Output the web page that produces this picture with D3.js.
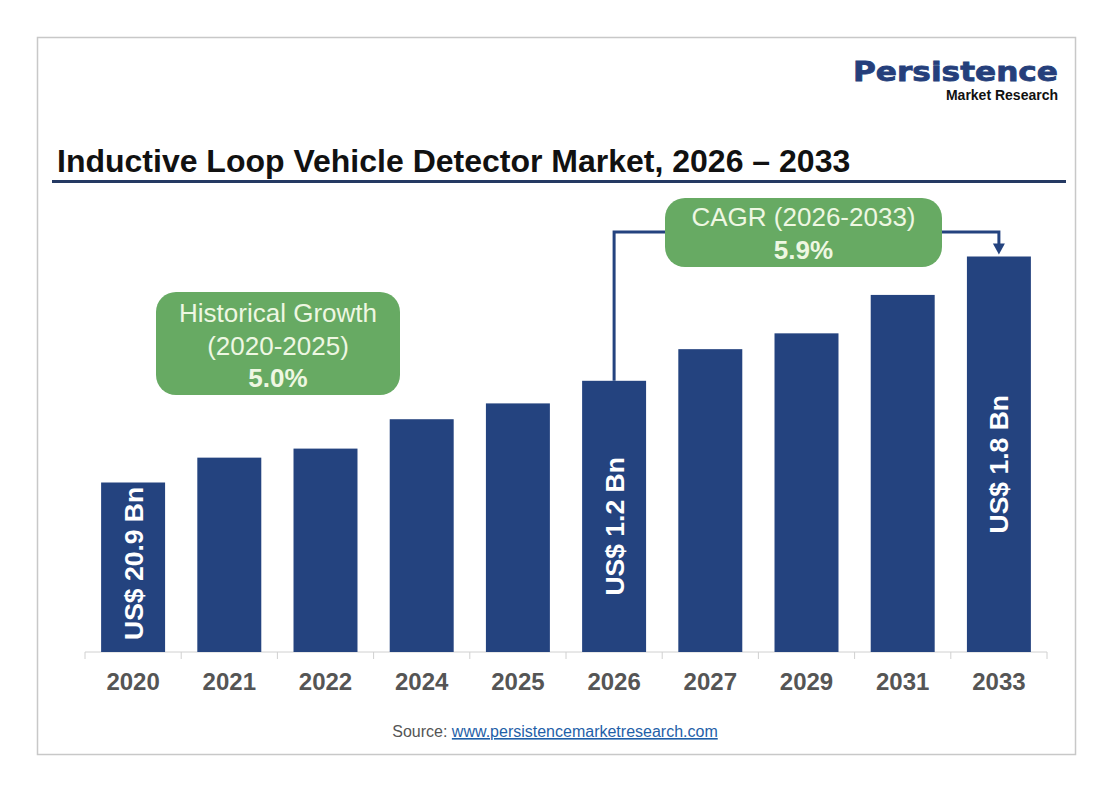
<!DOCTYPE html>
<html>
<head>
<meta charset="utf-8">
<script src="https://cdn.jsdelivr.net/npm/d3@7"></script>
<style>
  body { margin: 0; background: #fff; font-family: "Liberation Sans", Arial, sans-serif; }
</style>
</head>
<body>
<div id="chart"></div>
<script>
const years = ["2020", "2021", "2022", "2024", "2025", "2026", "2027", "2029", "2031", "2033"];
const values = [0.75, 0.86, 0.90, 1.03, 1.10, 1.20, 1.34, 1.41, 1.58, 1.75];
const barLabels = { "2020": "US$ 20.9 Bn", "2026": "US$ 1.2 Bn", "2033": "US$ 1.8 Bn" };
const historical = ["Historical Growth", "(2020-2025)", "5.0%"];
const cagr = ["CAGR (2026-2033)", "5.9%"];

const width = 1112, height = 792;
const barColor = "#24437f";
const green = "#67aa63";

const svg = d3.select("#chart").append("svg")
  .attr("width", width)
  .attr("height", height);

// frame
svg.append("rect")
  .attr("x", 37.5).attr("y", 37.5)
  .attr("width", 1038).attr("height", 717)
  .attr("fill", "#fff")
  .attr("stroke", "#c8c8c8")
  .attr("stroke-width", 1.5);

// logo
svg.append("text")
  .attr("x", 853).attr("y", 81)
  .attr("textLength", 205)
  .attr("lengthAdjust", "spacingAndGlyphs")
  .style("font-family", "'DejaVu Sans', sans-serif")
  .style("font-size", "27px")
  .style("font-weight", "bold")
  .style("fill", "#253f7b")
  .style("stroke", "#253f7b")
  .style("stroke-width", 0.8)
  .text("Persistence");
svg.append("text")
  .attr("x", 1058).attr("y", 100)
  .attr("text-anchor", "end")
  .style("font-size", "14px")
  .style("font-weight", "bold")
  .style("fill", "#111")
  .text("Market Research");

// title
svg.append("text")
  .attr("x", 57).attr("y", 172)
  .style("font-size", "32px")
  .style("font-weight", "bold")
  .style("fill", "#111")
  .text("Inductive Loop Vehicle Detector Market, 2026 \u2013 2033");
svg.append("line")
  .attr("x1", 52).attr("x2", 1066)
  .attr("y1", 181.5).attr("y2", 181.5)
  .attr("stroke", "#253a63")
  .attr("stroke-width", 3);

// scales
const x = d3.scaleBand()
  .domain(years)
  .range([85, 1047])
  .paddingInner(0.335)
  .paddingOuter(0.1675);

const y = d3.scaleLinear()
  .domain([0, 2])
  .range([652, 200]);

// axis
const axis = svg.append("g")
  .attr("transform", "translate(0,652)");
axis.append("line")
  .attr("x1", 85).attr("x2", 1047)
  .attr("stroke", "#d0d0d0").attr("stroke-width", 1);
const step = x.step();
axis.selectAll(".tick-mark")
  .data(d3.range(years.length + 1))
  .join("line")
  .attr("class", "tick-mark")
  .attr("x1", i => 85 + i * step).attr("x2", i => 85 + i * step)
  .attr("y1", 0).attr("y2", 7)
  .attr("stroke", "#d0d0d0");
axis.selectAll(".year")
  .data(years)
  .join("text")
  .attr("class", "year")
  .attr("x", d => x(d) + x.bandwidth() / 2)
  .attr("y", 38)
  .attr("text-anchor", "middle")
  .style("font-size", "24px")
  .style("font-weight", "bold")
  .style("fill", "#555")
  .text(d => d);

// bars
svg.selectAll(".bar")
  .data(years)
  .join("rect")
  .attr("class", "bar")
  .attr("x", d => x(d))
  .attr("y", (d, i) => y(values[i]))
  .attr("width", x.bandwidth())
  .attr("height", (d, i) => y(0) - y(values[i]))
  .attr("fill", barColor);

// bar labels: centred a little low in the bar, kept clear of the axis
svg.selectAll(".bar-label")
  .data(years.filter(d => barLabels[d]))
  .join("text")
  .attr("class", "bar-label")
  .attr("text-anchor", "middle")
  .attr("dy", "0.36em")
  .style("font-size", "26.5px")
  .style("font-weight", "bold")
  .style("fill", "#fff")
  .text(d => barLabels[d])
  .attr("transform", function (d) {
    const v = values[years.indexOf(d)];
    const cx = x(d) + x.bandwidth() / 2;
    const half = this.getComputedTextLength() / 2;
    const cy = Math.min((y(v) + y(0)) / 2 + 10, y(0) - 12 - half);
    return `translate(${cx},${cy}) rotate(-90)`;
  });

// CAGR connector
const x26 = x("2026") + x.bandwidth() / 2;
const x33 = x("2033") + x.bandwidth() / 2;
const yTop26 = y(values[years.indexOf("2026")]);
const yTop33 = y(values[years.indexOf("2033")]);
const lineY = 232;
svg.append("path")
  .attr("d", `M${x26},${yTop26} V${lineY} H${x33} V${yTop33 - 12}`)
  .attr("fill", "none")
  .attr("stroke", barColor)
  .attr("stroke-width", 3);
svg.append("path")
  .attr("d", `M${x33 - 6},${yTop33 - 13} L${x33 + 6},${yTop33 - 13} L${x33},${yTop33 - 2} Z`)
  .attr("fill", barColor);

// bubbles
function bubble(bx, by, bw, bh, lines, lineH, firstY) {
  const g = svg.append("g");
  g.append("rect")
    .attr("x", bx).attr("y", by)
    .attr("width", bw).attr("height", bh)
    .attr("rx", 20).attr("ry", 20)
    .attr("fill", green);
  g.selectAll("text")
    .data(lines)
    .join("text")
    .attr("x", bx + bw / 2)
    .attr("y", (d, i) => firstY + i * lineH)
    .attr("text-anchor", "middle")
    .style("font-size", "26px")
    .style("font-weight", (d, i) => i === lines.length - 1 ? "bold" : "normal")
    .style("fill", "#eef7e2")
    .text(d => d);
}
bubble(156, 292, 244, 103, historical, 32.5, 322);
bubble(665, 198, 277, 69, cagr, 33, 226);

// source
const src = svg.append("text")
  .attr("x", 555).attr("y", 737)
  .attr("text-anchor", "middle")
  .style("font-size", "16px");
src.append("tspan").style("fill", "#555").text("Source: ");
src.append("tspan").style("fill", "#1f5fa8").style("text-decoration", "underline")
  .text("www.persistencemarketresearch.com");
</script>
</body>
</html>
